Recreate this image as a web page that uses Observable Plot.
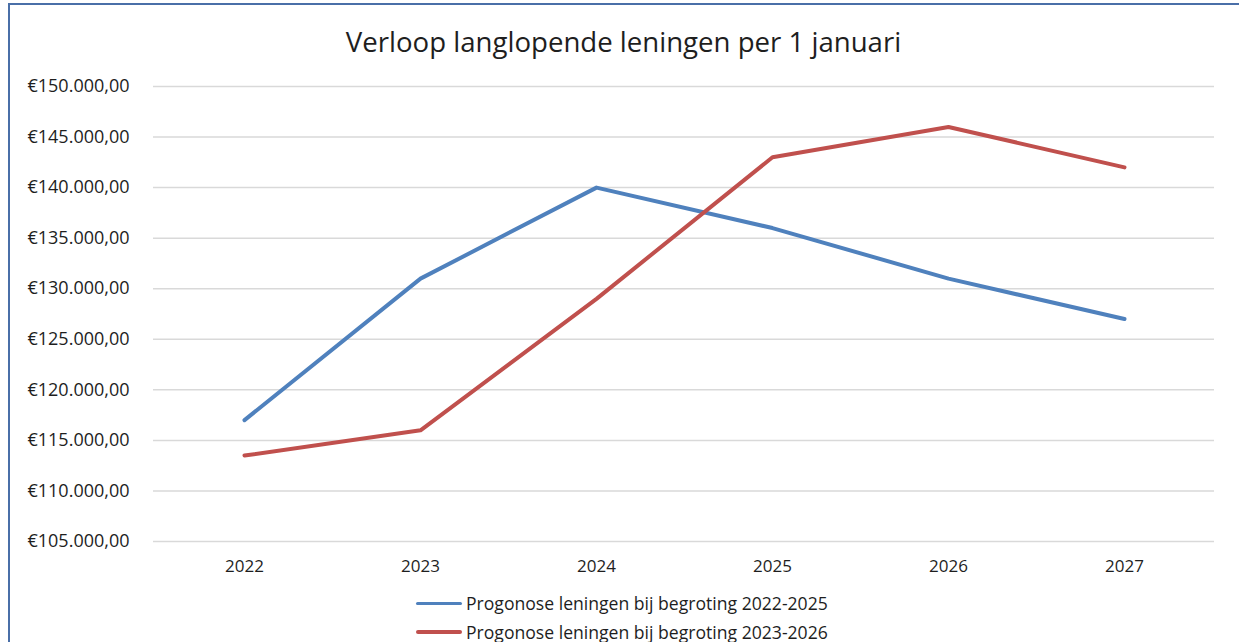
<!DOCTYPE html>
<html>
<head>
<meta charset="utf-8">
<script src="https://cdn.jsdelivr.net/npm/d3@7"></script>
<script src="https://cdn.jsdelivr.net/npm/@observablehq/plot@0.6"></script>
<style>
  html, body { margin: 0; padding: 0; background: #fff; }
  #wrap { position: relative; width: 1239px; height: 642px; overflow: hidden; background: #fff; font-family: "Open Sans", sans-serif; color: #1e1e1e; }
  #frame { position: absolute; left: 8px; top: 3px; width: 1400px; height: 800px; border-left: 2px solid #4a6fa8; border-top: 2px solid #4a6fa8; box-sizing: border-box; }
  #title { position: relative; height: 72px; box-sizing: border-box; padding-top: 23px; line-height: 36px; font-size: 27.6px; text-align: center; padding-left: 8px; }
  #chart { position: relative; height: 513px; }
  #legend { position: relative; padding-top: 4px; padding-left: 416px; font-size: 17.6px; }
  .row { height: 28.5px; line-height: 28.5px; display: flex; align-items: center; }
  .sw { width: 46px; height: 3.5px; border-radius: 2px; margin-right: 4px; }
</style>
</head>
<body>
<div id="wrap">
  <div id="frame"></div>
  <div id="title">Verloop langlopende leningen per 1 januari</div>
  <div id="chart"></div>
  <div id="legend"></div>
</div>
<script>
const years = ["2022", "2023", "2024", "2025", "2026", "2027"];
const seriesNames = [
  "Progonose leningen bij begroting 2022-2025",
  "Progonose leningen bij begroting 2023-2026"
];
const begroting2022 = [117000, 131000, 140000, 136000, 131000, 127000];
const begroting2023 = [113500, 116000, 129000, 143000, 146000, 142000];
const yTicks = [105000, 110000, 115000, 120000, 125000, 130000, 135000, 140000, 145000, 150000];
const colors = ["#4F81BD", "#C0504D"];

const locale = d3.formatLocale({decimal: ",", thousands: ".", grouping: [3], currency: ["€", ""]});
const fmt = locale.format("$,.2f");

const rows = [];
[begroting2022, begroting2023].forEach((vals, i) => {
  vals.forEach((v, j) => rows.push({year: years[j], value: v, series: seriesNames[i]}));
});

const chart = Plot.plot({
  width: 1239,
  height: 513,
  marginLeft: 153,
  marginRight: 25,
  marginTop: 14,
  marginBottom: 44,
  style: {fontFamily: "Open Sans, sans-serif", fontSize: "17px", color: "#1e1e1e", background: "transparent", overflow: "visible"},
  x: {type: "point", domain: years, padding: 0.5, label: null},
  y: {domain: [105000, 150000], label: null},
  color: {domain: seriesNames, range: colors},
  marks: [
    Plot.ruleY(yTicks, {stroke: "#d9d9d9", strokeWidth: 1.5}),
    Plot.axisY({ticks: yTicks, tickFormat: fmt, tickSize: 0, tickPadding: 24, label: null, fontSize: 18}),
    Plot.axisX({tickSize: 0, tickPadding: 18, label: null}),
    Plot.lineY(rows, {x: "year", y: "value", z: "series", stroke: "series", strokeWidth: 4, strokeLinecap: "round", strokeLinejoin: "round"})
  ]
});
document.getElementById("chart").appendChild(chart);

const legend = document.getElementById("legend");
seriesNames.forEach((name, i) => {
  const row = document.createElement("div");
  row.className = "row";
  const sw = document.createElement("span");
  sw.className = "sw";
  sw.style.background = colors[i];
  const t = document.createElement("span");
  t.textContent = name;
  row.appendChild(sw);
  row.appendChild(t);
  legend.appendChild(row);
});
</script>
</body>
</html>
